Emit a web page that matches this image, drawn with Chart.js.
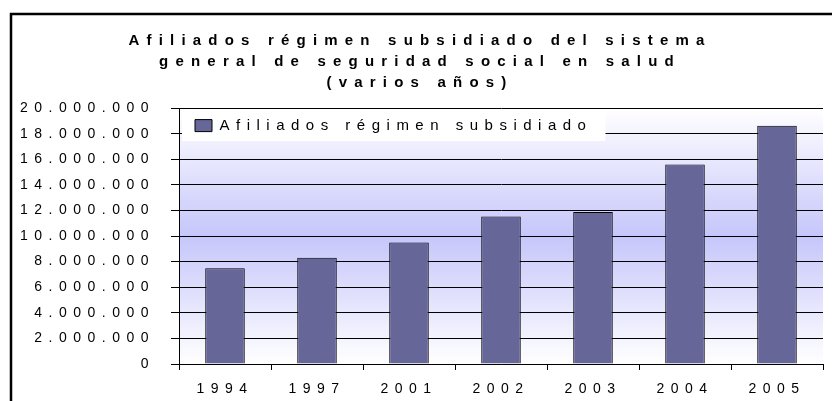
<!DOCTYPE html>
<html>
<head>
<meta charset="utf-8">
<script src="https://cdn.jsdelivr.net/npm/chart.js@4"></script>
<style>
  body { margin: 0; background: #fff; }
  canvas { display: block; }
</style>
</head>
<body>
<canvas id="afiliadosChart" width="832" height="401"></canvas>
<script>
// data
const years = ["1994", "1997", "2001", "2002", "2003", "2004", "2005"];
const afiliados = [7490000, 8300000, 9490000, 11520000, 11880000, 15590000, 18620000];
const yTickValues = [0, 2000000, 4000000, 6000000, 8000000, 10000000, 12000000, 14000000, 16000000, 18000000, 20000000];
const titleLines = [
  "Afiliados régimen subsidiado del sistema",
  "general de seguridad social en salud",
  "(varios años)",
];
const seriesLabel = "Afiliados régimen subsidiado";

const FONT = "'Liberation Sans', Arial, sans-serif";
const SPACING = "6.5px"; // the old excel export spreads every letter out
const TITLE_SPACING = "7.2px";

// thousands with dots, like 20.000.000
function formatMiles(v) {
  return String(v).replace(/\B(?=(\d{3})+(?!\d))/g, ".");
}

const excelLook = {
  id: "excelLook",
  beforeUpdate(chart) {
    chart.ctx.letterSpacing = SPACING;
  },
  afterLayout(chart) {
    // the legend floats inside the plot, top left
    const lg = chart.legend;
    const a = chart.chartArea;
    const h = lg.height;
    const w = lg.lineWidths[0] + 2 * lg.options.labels.padding;
    lg.left = a.left + 5;
    lg.top = a.top - 1;
    lg.width = w;
    lg.right = lg.left + w;
    lg.bottom = lg.top + h;
  },
  beforeDraw(chart) {
    const { ctx, chartArea: a, width, height } = chart;
    ctx.letterSpacing = SPACING;
    ctx.save();
    ctx.fillStyle = "#fff";
    ctx.fillRect(0, 0, width, height);

    // plot area: white - lavender - white
    const g = ctx.createLinearGradient(0, a.top, 0, a.bottom);
    g.addColorStop(0, "#ffffff");
    g.addColorStop(0.5, "#c6c6fb");
    g.addColorStop(1, "#ffffff");
    ctx.fillStyle = g;
    ctx.fillRect(a.left, a.top, a.right - a.left, a.bottom - a.top);

    // outer frame (only left and top edges are in view)
    ctx.strokeStyle = "#000";
    ctx.lineWidth = 2.5;
    ctx.strokeRect(11, 14, width, height);
    ctx.restore();

    // legend sits on a white box that hides the gridline behind it
    const legend = chart.legend;
    if (legend && !legend._backed) {
      legend._backed = true;
      const origDraw = legend.draw;
      legend.draw = function () {
        const c = this.ctx;
        const a2 = chart.chartArea;
        c.save();
        c.fillStyle = "#fff";
        c.fillRect(a2.left + 3, a2.top + 3, this.right - a2.left - 12, this.bottom - a2.top - 5);
        c.restore();
        origDraw.apply(this, arguments);
      };
    }

    // title gets a bit more spacing than the rest
    const tb = chart.titleBlock;
    if (tb && !tb._spaced) {
      tb._spaced = true;
      const origTitle = tb.draw;
      tb.draw = function () {
        this.ctx.letterSpacing = TITLE_SPACING;
        origTitle.apply(this, arguments);
        this.ctx.letterSpacing = SPACING;
      };
    }
  },
};

const ctx = document.getElementById("afiliadosChart").getContext("2d");
const afiliadosChart = new Chart(ctx, {
  type: "bar",
  data: {
    labels: years,
    datasets: [
      {
        label: seriesLabel,
        data: afiliados,
        backgroundColor: "#666699",
        borderColor: "#000",
        borderWidth: 1,
        categoryPercentage: 1,
        barPercentage: 0.43,
      },
    ],
  },
  options: {
    responsive: false,
    animation: false,
    layout: {
      padding: { left: 17, right: 9, top: 0, bottom: 0 },
    },
    scales: {
      x: {
        afterFit(scale) {
          scale.height = 37;
        },
        grid: { drawOnChartArea: false, color: "#000", tickLength: 6, offset: true },
        border: { color: "#000", width: 1 },
        ticks: { color: "#000", font: { family: FONT, size: 14 }, padding: 11 },
      },
      y: {
        min: 0,
        max: 20000000,
        afterBuildTicks(scale) {
          scale.ticks = yTickValues.map((v) => ({ value: v }));
        },
        afterFit(scale) {
          scale.width = 162;
        },
        grid: { color: "#000", lineWidth: 1, tickLength: 8 },
        border: { color: "#000", width: 1 },
        ticks: {
          color: "#000",
          font: { family: FONT, size: 14 },
          padding: 16,
          callback: (v) => formatMiles(v),
        },
      },
    },
    plugins: {
      title: {
        display: true,
        text: titleLines,
        color: "#000",
        font: { family: FONT, size: 15, weight: "bold", lineHeight: 1.38 },
        // negative bottom: the legend box is moved into the plot afterwards
        padding: { top: 31, bottom: -21 },
      },
      legend: {
        display: true,
        position: "top",
        align: "start",
        labels: {
          color: "#000",
          font: { family: FONT, size: 15 },
          boxWidth: 17,
          boxHeight: 12,
          padding: 11,
        },
      },
      tooltip: { enabled: false },
    },
  },
  plugins: [excelLook],
});
</script>
</body>
</html>
